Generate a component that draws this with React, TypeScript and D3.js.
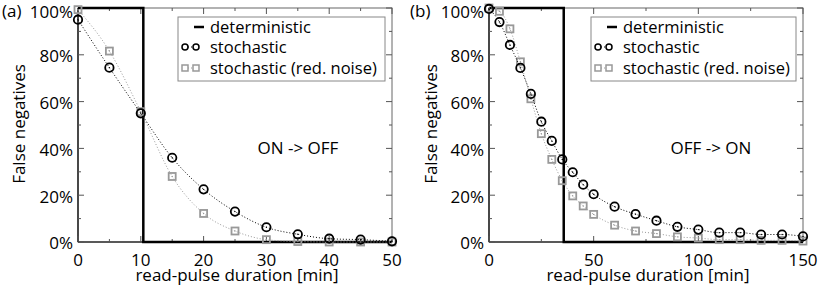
import React from "react";
import * as d3 from "d3";

const xA = [0, 5, 10, 15, 20, 25, 30, 35, 40, 45, 50];
const stochA = [95, 74.5, 55, 36, 22.5, 13, 6.3, 3.3, 1.4, 1.0, 0.3];
const noiseA = [99.3, 81.6, 55.7, 28, 12.2, 4.7, 1.0, 0.2, 0, 0, 0];
const detA = 10.4;
const xTicksA = [0, 10, 20, 30, 40, 50];
const xMinorA = [5, 15, 25, 35, 45];

const xB = [0, 5, 10, 15, 20, 25, 30, 35, 40, 45, 50, 60, 70, 80, 90, 100, 110, 120, 130, 140, 150];
const stochB = [99.6, 94, 84.2, 74.4, 63.3, 51.4, 43.2, 35.3, 29.8, 24.5, 20.4, 15.1, 11.9, 9.1, 6.5, 5.3, 4.0, 4.0, 3.2, 3.2, 2.4];
const noiseB = [100, 98.6, 91.1, 77.0, 61.2, 46.3, 35.3, 26.2, 19.7, 15.4, 11.8, 7.2, 4.7, 3.6, 2.2, 1.7, 1.0, 1.0, 0.7, 0.7, 0.4];
const detB = 35.7;
const xTicksB = [0, 50, 100, 150];
const xMinorB = [25, 75, 125];

const yTicks = [0, 20, 40, 60, 80, 100];
const yMinor = [10, 30, 50, 70, 90];
const legendLabels = ["deterministic", "stochastic", "stochastic (red. noise)"];

const FONT = "'Open Sans', sans-serif";
const FS = 17;
const LFS = 16.5;

type PanelProps = {
  x0: number; x1: number; xmax: number;
  xs: number[]; stoch: number[]; noise: number[]; det: number;
  xTicks: number[]; xMinor: number[];
  tag: string; tagX: number; note: string; noteX: number;
  legendX: number; legendW: number;
  labelX: number;
};

function Panel(p: PanelProps) {
  const top = 8, bottom = 242;
  const x = d3.scaleLinear().domain([0, p.xmax]).range([p.x0, p.x1]);
  const y = d3.scaleLinear().domain([0, 100]).range([bottom, top]);
  const line = d3.line<[number, number]>().x(d => x(d[0])).y(d => y(d[1])).curve(d3.curveMonotoneX);
  const sPts: [number, number][] = p.xs.map((v, i) => [v, p.stoch[i]]);
  const nPts: [number, number][] = p.xs.map((v, i) => [v, p.noise[i]]);
  const detPts: [number, number][] = [[0, 100], [p.det, 100], [p.det, 0], [p.xmax, 0]];
  const detLine = d3.line<[number, number]>().x(d => x(d[0])).y(d => y(d[1]));
  const tickCol = "#555";
  const lx = p.legendX;
  const rows = [27, 47, 68];
  return (
    <g>
      <rect x={p.x0} y={top} width={p.x1 - p.x0} height={bottom - top} fill="none" stroke="#666" strokeWidth={1} />
      <line x1={p.x0} x2={p.x0} y1={top} y2={bottom} stroke="#000" strokeWidth={1.2} />
      <line x1={p.x0} x2={p.x1} y1={bottom} y2={bottom} stroke="#000" strokeWidth={1.2} />
      {yTicks.map(t => (
        <g key={"y" + t}>
          <line x1={p.x0} x2={p.x0 + 6} y1={y(t)} y2={y(t)} stroke={tickCol} />
          <line x1={p.x1} x2={p.x1 - 6} y1={y(t)} y2={y(t)} stroke={tickCol} />
          <text x={p.x0 - 5} y={y(t) + (t === 100 ? 4.5 : 1.5)} dy="0.35em" textAnchor="end" fontFamily={FONT} fontSize={FS}>{t + "%"}</text>
        </g>
      ))}
      {yMinor.map(t => (
        <g key={"ym" + t}>
          <line x1={p.x0} x2={p.x0 + 3} y1={y(t)} y2={y(t)} stroke={tickCol} />
          <line x1={p.x1} x2={p.x1 - 3} y1={y(t)} y2={y(t)} stroke={tickCol} />
        </g>
      ))}
      {p.xTicks.map(t => (
        <g key={"x" + t}>
          <line x1={x(t)} x2={x(t)} y1={bottom} y2={bottom - 6} stroke={tickCol} />
          <line x1={x(t)} x2={x(t)} y1={top} y2={top + 6} stroke={tickCol} />
          <text x={x(t)} y={265.5} textAnchor="middle" fontFamily={FONT} fontSize={FS}>{t}</text>
        </g>
      ))}
      {p.xMinor.map(t => (
        <g key={"xm" + t}>
          <line x1={x(t)} x2={x(t)} y1={bottom} y2={bottom - 3} stroke={tickCol} />
          <line x1={x(t)} x2={x(t)} y1={top} y2={top + 3} stroke={tickCol} />
        </g>
      ))}
      <path d={detLine(detPts) || ""} fill="none" stroke="#000" strokeWidth={2.5} />
      <path d={line(nPts) || ""} fill="none" stroke="#999" strokeWidth={1} strokeDasharray="1,2" />
      {nPts.map((d, i) => (
        <g key={"n" + i}>
          <rect x={x(d[0]) - 3.5} y={y(d[1]) - 3.5} width={7} height={7} fill="none" stroke="#999" strokeWidth={1.8} />
          <circle cx={x(d[0])} cy={y(d[1])} r={0.7} fill="#999" />
        </g>
      ))}
      <path d={line(sPts) || ""} fill="none" stroke="#000" strokeWidth={1} strokeDasharray="1,2" />
      {sPts.map((d, i) => (
        <g key={"s" + i}>
          <circle cx={x(d[0])} cy={y(d[1])} r={4.2} fill="none" stroke="#000" strokeWidth={1.8} />
          <circle cx={x(d[0])} cy={y(d[1])} r={0.7} fill="#000" />
        </g>
      ))}
      <rect x={lx} y={17} width={p.legendW} height={64} fill="#fff" stroke="#888" strokeWidth={1} />
      <line x1={lx + 16} x2={lx + 26} y1={rows[0]} y2={rows[0]} stroke="#000" strokeWidth={2.5} />
      <line x1={lx + 7} x2={lx + 18} y1={rows[1]} y2={rows[1]} stroke="#000" strokeWidth={1} strokeDasharray="1,2" />
      <circle cx={lx + 7} cy={rows[1]} r={3} fill="#fff" stroke="#000" strokeWidth={1.5} />
      <circle cx={lx + 18} cy={rows[1]} r={3} fill="#fff" stroke="#000" strokeWidth={1.5} />
      <line x1={lx + 7} x2={lx + 18} y1={rows[2]} y2={rows[2]} stroke="#999" strokeWidth={1} strokeDasharray="1,2" />
      <rect x={lx + 4} y={rows[2] - 3} width={6} height={6} fill="#fff" stroke="#999" strokeWidth={1.5} />
      <rect x={lx + 15} y={rows[2] - 3} width={6} height={6} fill="#fff" stroke="#999" strokeWidth={1.5} />
      {legendLabels.map((l, i) => (
        <text key={l} x={lx + 32} y={rows[i]} dy="0.35em" fontFamily={FONT} fontSize={LFS}>{l}</text>
      ))}
      <text x={p.noteX} y={148} dy="0.35em" textAnchor="middle" fontFamily={FONT} fontSize={FS}>{p.note}</text>
      <text x={p.tagX} y={17} fontFamily={FONT} fontSize={FS}>{p.tag}</text>
      <text x={(p.x0 + p.x1) / 2 + 2} y={281} textAnchor="middle" fontFamily={FONT} fontSize={FS}>read-pulse duration [min]</text>
      <text transform={`translate(${p.labelX},${(top + bottom) / 2 - 1}) rotate(-90)`} textAnchor="middle" fontFamily={FONT} fontSize={FS}>False negatives</text>
    </g>
  );
}

export default function App() {
  return (
    <svg width={818} height={286} style={{ position: "absolute", left: 0, top: 0, background: "#fff" }}>
      <rect width={818} height={286} fill="#fff" />
      <Panel x0={78} x1={392} xmax={50} xs={xA} stoch={stochA} noise={noiseA} det={detA}
        xTicks={xTicksA} xMinor={xMinorA} tag="(a)" tagX={2} note="ON -> OFF" noteX={298}
        legendX={178} legendW={207} labelX={24.5} />
      <Panel x0={489} x1={803} xmax={150} xs={xB} stoch={stochB} noise={noiseB} det={detB}
        xTicks={xTicksB} xMinor={xMinorB} tag="(b)" tagX={410} note="OFF -> ON" noteX={711}
        legendX={591} legendW={205} labelX={437} />
    </svg>
  );
}
